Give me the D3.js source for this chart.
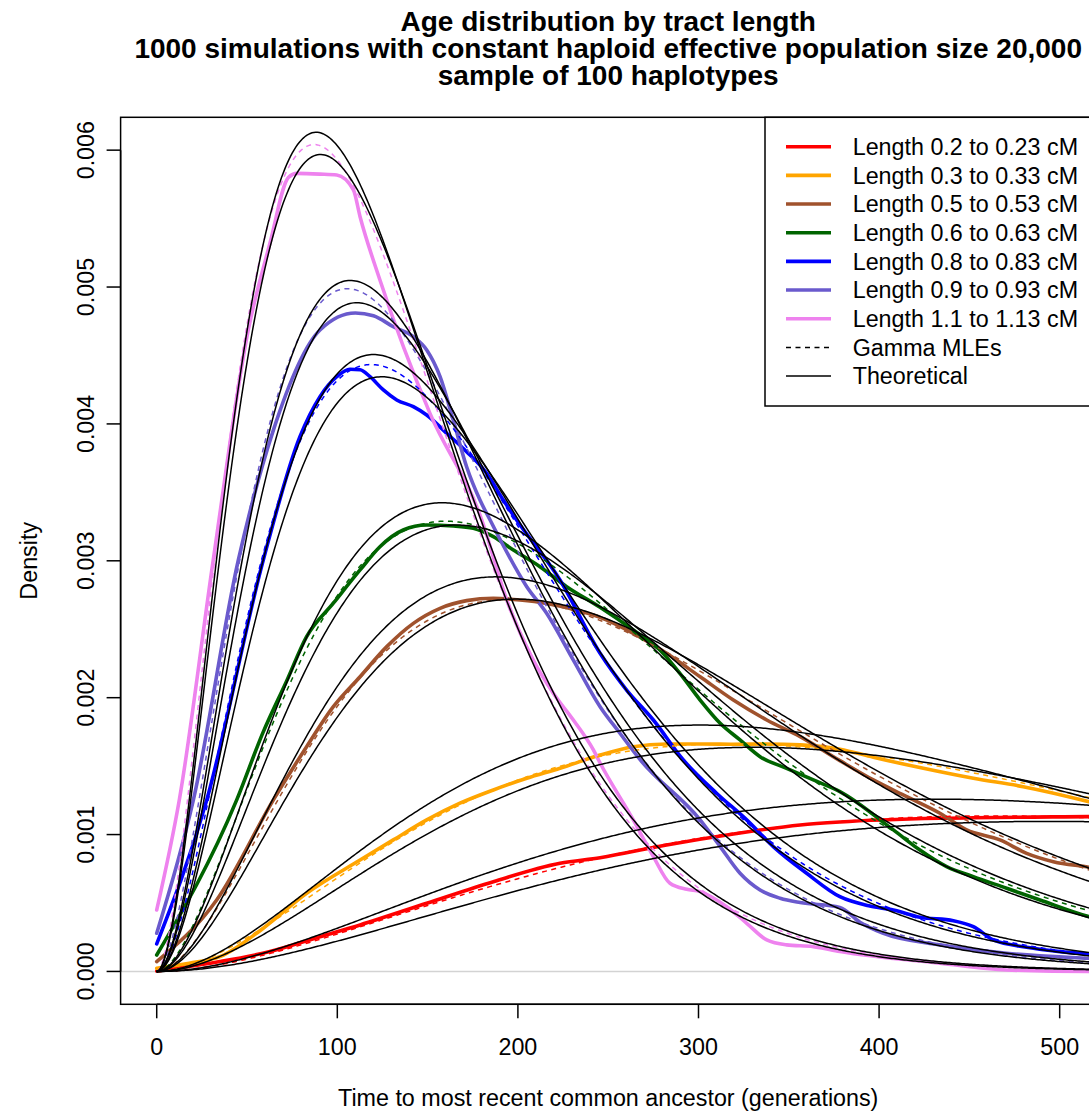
<!DOCTYPE html>
<html><head><meta charset="utf-8">
<script src="https://cdn.jsdelivr.net/npm/d3@7"></script>
<style>
body{margin:0;background:#fff}
svg{display:block}
text{font-family:"Liberation Sans",Arial,Helvetica,sans-serif;fill:#000}
</style>
</head><body>
<svg id="chart" width="1089" height="1118"></svg>
<script>
// ---------------- data ----------------
const titleLines = [
  "Age distribution by tract length",
  "1000 simulations with constant haploid effective population size 20,000",
  "sample of 100 haplotypes"
];
const xLabel = "Time to most recent common ancestor (generations)";
const yLabel = "Density";
const xTicks = [0, 100, 200, 300, 400, 500];
const yTicks = [0, 0.001, 0.002, 0.003, 0.004, 0.005, 0.006];
const yTickLabels = ["0.000", "0.001", "0.002", "0.003", "0.004", "0.005", "0.006"];

const seriesNames = ["Length 0.2 to 0.23 cM", "Length 0.3 to 0.33 cM", "Length 0.5 to 0.53 cM",
  "Length 0.6 to 0.63 cM", "Length 0.8 to 0.83 cM", "Length 0.9 to 0.93 cM", "Length 1.1 to 1.13 cM"];
const seriesColors = ["#FF0000", "#FFA500", "#A0522D", "#006400", "#0000FF", "#6A5ACD", "#EE82EE"];
const lengthLowCM  = [0.2, 0.3, 0.5, 0.6, 0.8, 0.9, 1.1];
const lengthHighCM = [0.23, 0.33, 0.53, 0.63, 0.83, 0.93, 1.13];
const haploidNe = 20000;

// Gamma maximum-likelihood fits (shape, rate per generation)
const mleShape = [2.9, 2.9, 2.9, 2.9, 2.9, 2.9, 2.9];
const mleRate  = [0.0041, 0.0060, 0.0098, 0.01187, 0.0160, 0.0180, 0.0218];

// Empirical densities: [generations, density x 1000]
const empRed = [[0,0.003],[15,0.03],[35,0.072],[62.7,0.145],[90.4,0.254],[112.6,0.34],[149.5,0.498],[186.4,0.656],
  [223.3,0.79],[245.5,0.831],[282.3,0.924],[319.3,1.004],[356.3,1.07],[378.3,1.092],[433.7,1.119],[516,1.131],[525,1.132]];
const empOrange = [[0,0.023],[18,0.06],[35,0.108],[59,0.316],[83,0.571],[112.6,0.814],[131,0.961],[149.5,1.107],
  [167.9,1.229],[186.4,1.326],[204.9,1.411],[223.3,1.484],[245.5,1.581],[263.9,1.642],[282.3,1.662],[300.9,1.662],
  [319.3,1.66],[337.8,1.662],[356.3,1.655],[378.3,1.624],[396.8,1.565],[424.5,1.484],[452.2,1.411],[479.8,1.35],
  [516.2,1.24],[525,1.21]];
const empBrown = [[0,0.072],[33.2,0.522],[64.6,1.253],[83,1.642],[97.8,1.934],[112.6,2.153],[127.4,2.373],[142.1,2.543],
  [156.9,2.653],[171.6,2.709],[186.4,2.726],[201.2,2.714],[215.9,2.689],[230.7,2.646],[245.5,2.587],[263.9,2.47],
  [282.3,2.324],[300.9,2.153],[319.3,1.983],[337.8,1.837],[356.3,1.715],[378.3,1.54],[396.8,1.399],[415.3,1.277],
  [433.7,1.156],[448.5,1.034],[466.9,0.961],[481.7,0.863],[496.5,0.802],[516.2,0.761],[525,0.74]];
const empGreen = [[0,0.12],[44.3,1.253],[59,1.75],[71.9,2.12],[83,2.446],[97.8,2.69],[112.6,2.933],[123.6,3.103],
  [136.5,3.225],[149.5,3.261],[164.3,3.254],[175.3,3.237],[186.4,3.176],[197.5,3.079],[212.2,2.957],[227,2.811],
  [245.5,2.66],[263.9,2.494],[278.6,2.348],[289.7,2.178],[300.9,1.983],[312,1.813],[323,1.691],[334.1,1.569],
  [348.8,1.484],[363.6,1.399],[378.3,1.314],[407.9,1.034],[422.6,0.887],[437.4,0.766],[452.2,0.692],[470.6,0.608],
  [489.1,0.522],[516.2,0.4],[525,0.37]];
const empBlue = [[0,0.201],[27.7,1.253],[59,3.006],[79.3,3.906],[90.4,4.199],[99.7,4.345],[107,4.399],[112.6,4.396],
  [118.1,4.345],[125.5,4.248],[132.9,4.175],[142.1,4.126],[149.5,4.065],[160.6,3.931],[171.6,3.797],[182.7,3.639],
  [191.9,3.444],[199.3,3.298],[223.3,2.86],[245.5,2.324],[260.2,2.056],[275,1.837],[291.6,1.545],[310,1.302],
  [326.7,1.107],[341.4,0.912],[359.9,0.717],[378.3,0.546],[394.9,0.478],[407.9,0.449],[422.6,0.396],[441.1,0.371],
  [452.2,0.327],[463.3,0.23],[481.7,0.177],[500.2,0.145],[516,0.128],[525,0.12]];
const empSlate = [[0,0.279],[20.3,1.253],[45.2,3.006],[64.6,3.955],[90.4,4.686],[110,4.81],[120,4.79],[131,4.71],
  [142.1,4.637],[149.5,4.54],[156.9,4.345],[164.2,4.028],[171.6,3.687],[179,3.444],[184.6,3.298],[204.9,2.811],
  [215.9,2.617],[230.7,2.275],[245.5,1.934],[256.5,1.74],[267.8,1.545],[300.9,1.107],[312,0.912],[323,0.717],
  [334.1,0.595],[345.2,0.535],[356.3,0.503],[378.3,0.468],[389.4,0.36],[402,0.28],[433.7,0.194],[470.6,0.133],
  [516,0.096],[525,0.09]];
const empViolet = [[0,0.449],[12.5,1.253],[31.3,3.006],[50.7,4.686],[62.7,5.32],[72.9,5.8],[77.5,5.83],[90.4,5.825],
  [99.7,5.818],[108.9,5.709],[112.6,5.514],[123.6,5.051],[151.3,4.077],[180,3.298],[193.8,2.714],[208.5,2.275],
  [219.6,2.032],[230.7,1.837],[241.8,1.618],[245.5,1.523],[263.9,1.107],[275,0.839],[284.2,0.644],[293.5,0.6],
  [300.9,0.583],[315.6,0.473],[326.7,0.352],[337.8,0.23],[348.8,0.194],[363.6,0.181],[378.3,0.145],[433.7,0.06],
  [470.6,0.011],[516,0.0],[525,0.0]];
const empirical = [empRed, empOrange, empBrown, empGreen, empBlue, empSlate, empViolet];

// ---------------- layout ----------------
const svg = d3.select("#chart");
const W = 1089, H = 1118;
const box = {left: 120.6, right: 1095.8, top: 117.3, bottom: 1004.3};
const x = d3.scaleLinear().domain([-20, 520]).range([box.left, box.right]);
const y = d3.scaleLinear().domain([-0.00024, 0.00624]).range([box.bottom, box.top]);
const FONT = 23.3;

svg.append("rect").attr("width", W).attr("height", H).attr("fill", "#fff");

const defs = svg.append("defs");
defs.append("clipPath").attr("id", "plotclip").append("rect")
  .attr("x", box.left).attr("y", box.top)
  .attr("width", box.right - box.left).attr("height", box.bottom - box.top);

const plot = svg.append("g").attr("clip-path", "url(#plotclip)");

// zero reference line
plot.append("line").attr("x1", box.left).attr("x2", box.right)
  .attr("y1", y(0)).attr("y2", y(0)).attr("stroke", "#d3d3d3").attr("stroke-width", 1.5);

// gamma density
function lnGamma(z) {
  const g = 7, c = [0.99999999999980993, 676.5203681218851, -1259.1392167224028, 771.32342877765313,
    -176.61502916214059, 12.507343278686905, -0.13857109526572012, 9.9843695780195716e-6, 1.5056327351493116e-7];
  if (z < 0.5) return Math.log(Math.PI / Math.sin(Math.PI * z)) - lnGamma(1 - z);
  z -= 1;
  let a = c[0];
  const t = z + g + 0.5;
  for (let i = 1; i < g + 2; i++) a += c[i] / (z + i);
  return 0.5 * Math.log(2 * Math.PI) + (z + 0.5) * Math.log(t) - t + Math.log(a);
}
function gammaPdf(t, k, r) {
  if (t <= 0) return 0;
  return Math.exp(k * Math.log(r) + (k - 1) * Math.log(t) - r * t - lnGamma(k));
}
const grid = d3.range(0, 526, 1);

const line = d3.line().x(d => x(d[0])).y(d => y(d[1]));
const smoothLine = d3.line().x(d => x(d[0])).y(d => y(d[1] / 1000)).curve(d3.curveMonotoneX);

// empirical densities
empirical.forEach((pts, i) => {
  plot.append("path").attr("d", smoothLine(pts)).attr("fill", "none")
    .attr("stroke", seriesColors[i]).attr("stroke-width", 3.6)
    .attr("stroke-linejoin", "round").attr("stroke-linecap", "round");
});

// gamma MLE fits (dashed)
mleShape.forEach((k, i) => {
  const pts = grid.map(t => [t, gammaPdf(t, k, mleRate[i])]);
  plot.append("path").attr("d", line(pts)).attr("fill", "none")
    .attr("stroke", seriesColors[i]).attr("stroke-width", 1.5)
    .attr("stroke-dasharray", "5,4.5");
});

// theoretical: posterior age of a tract of length l (Morgans) under constant N: Gamma(3, 2l + 1/N)
[lengthLowCM, lengthHighCM].forEach(arr => {
  arr.forEach(cm => {
    const rate = 2 * cm / 100 + 1 / haploidNe;
    const pts = grid.map(t => [t, gammaPdf(t, 3, rate)]);
    plot.append("path").attr("d", line(pts)).attr("fill", "none")
      .attr("stroke", "#000").attr("stroke-width", 1.5);
  });
});

// plot box
svg.append("rect").attr("x", box.left).attr("y", box.top)
  .attr("width", box.right - box.left).attr("height", box.bottom - box.top)
  .attr("fill", "none").attr("stroke", "#000").attr("stroke-width", 1.5);

// x axis
const xAxisG = svg.append("g");
xAxisG.append("line").attr("x1", x(xTicks[0])).attr("x2", x(xTicks[xTicks.length - 1]))
  .attr("y1", box.bottom).attr("y2", box.bottom).attr("stroke", "#000").attr("stroke-width", 1.5);
xTicks.forEach(v => {
  xAxisG.append("line").attr("x1", x(v)).attr("x2", x(v)).attr("y1", box.bottom).attr("y2", box.bottom + 14)
    .attr("stroke", "#000").attr("stroke-width", 1.5);
  xAxisG.append("text").attr("x", x(v)).attr("y", 1055).attr("text-anchor", "middle")
    .attr("font-size", FONT).text(v);
});

// y axis
const yAxisG = svg.append("g");
yAxisG.append("line").attr("x1", box.left).attr("x2", box.left)
  .attr("y1", y(yTicks[0])).attr("y2", y(yTicks[yTicks.length - 1])).attr("stroke", "#000").attr("stroke-width", 1.5);
yTicks.forEach((v, i) => {
  yAxisG.append("line").attr("x1", box.left - 14).attr("x2", box.left).attr("y1", y(v)).attr("y2", y(v))
    .attr("stroke", "#000").attr("stroke-width", 1.5);
  yAxisG.append("text").attr("transform", `translate(94,${y(v)}) rotate(-90)`)
    .attr("text-anchor", "middle").attr("font-size", FONT).text(yTickLabels[i]);
});

// axis titles
svg.append("text").attr("x", (box.left + box.right) / 2).attr("y", 1106)
  .attr("text-anchor", "middle").attr("font-size", FONT).text(xLabel);
svg.append("text").attr("transform", `translate(37,${(box.top + box.bottom) / 2}) rotate(-90)`)
  .attr("text-anchor", "middle").attr("font-size", FONT).text(yLabel);

// title
const titleY = [31, 58, 85];
titleLines.forEach((t, i) => {
  svg.append("text").attr("x", (box.left + box.right) / 2).attr("y", titleY[i])
    .attr("text-anchor", "middle").attr("font-size", 28).attr("font-weight", "bold").text(t);
});

// legend
const leg = {left: 765, top: box.top, bottom: 406, rowY0: 146.7, rowStep: 28.67, lineX1: 786, lineX2: 831, textX: 852.7};
svg.append("rect").attr("x", leg.left).attr("y", leg.top).attr("width", box.right - leg.left)
  .attr("height", leg.bottom - leg.top).attr("fill", "#fff").attr("stroke", "#000").attr("stroke-width", 1.5);
const legendItems = seriesNames.map((n, i) => ({name: n, color: seriesColors[i], width: 3.6, dash: null}))
  .concat([{name: "Gamma MLEs", color: "#000", width: 1.5, dash: "5,4.5"},
           {name: "Theoretical", color: "#000", width: 1.5, dash: null}]);
legendItems.forEach((it, i) => {
  const ry = leg.rowY0 + i * leg.rowStep;
  const l = svg.append("line").attr("x1", leg.lineX1).attr("x2", leg.lineX2).attr("y1", ry).attr("y2", ry)
    .attr("stroke", it.color).attr("stroke-width", it.width);
  if (it.dash) l.attr("stroke-dasharray", it.dash);
  svg.append("text").attr("x", leg.textX).attr("y", ry + 8.3).attr("font-size", FONT).text(it.name);
});
</script>
</body></html>
